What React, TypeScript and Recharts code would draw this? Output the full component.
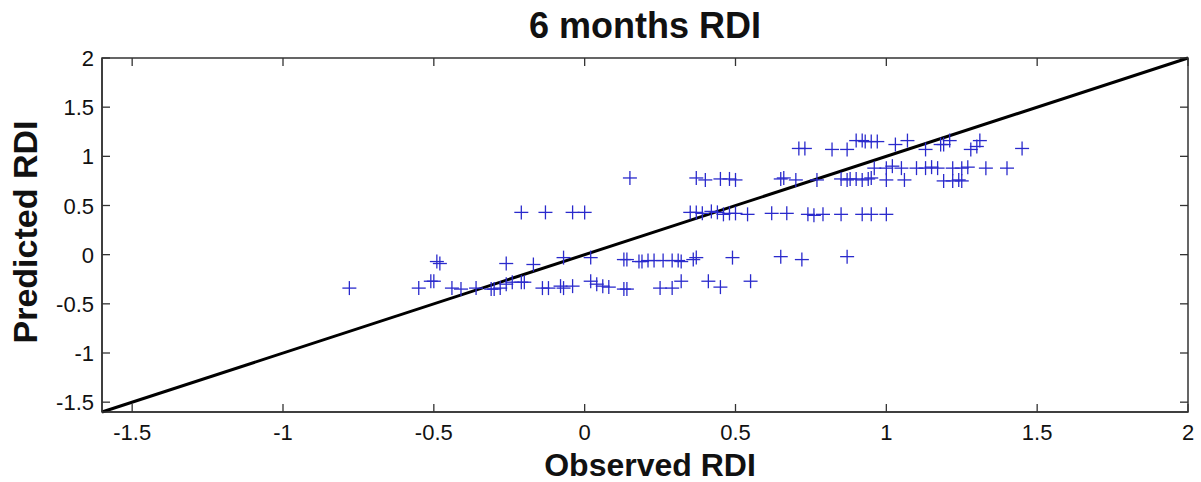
import React from 'react';
import { ScatterChart, Scatter, XAxis, YAxis, ReferenceLine, ReferenceArea } from 'recharts';

const OBSERVED = [
  -0.78, -0.55, -0.44, -0.41, -0.36, -0.31, -0.3, -0.28, -0.14, -0.12, -0.07, 0.13, 0.14, 0.25, 0.29, 0.45,
  -0.51, -0.5, -0.26, -0.24, -0.21, -0.2, -0.08, -0.04, 0.02, 0.04, 0.06, 0.08, 0.32, 0.41, 0.55,
  -0.49, -0.48, -0.26, -0.17, -0.07, 0.02, 0.13, 0.14, 0.18, 0.19, 0.21, 0.23, 0.26, 0.29, 0.31, 0.32, 0.36, 0.37, 0.49, 0.65, 0.72, 0.87,
  -0.21, -0.13, -0.04, 0.0, 0.35, 0.37, 0.39, 0.42, 0.44, 0.46, 0.48, 0.5, 0.54, 0.62, 0.67, 0.74, 0.76, 0.79, 0.85, 0.92, 0.95, 1.0,
  0.15, 0.37, 0.4, 0.45, 0.48, 0.5, 0.65, 0.66, 0.7, 0.77, 0.85, 0.87, 0.88, 0.9, 0.92, 0.94, 0.95, 1.0, 1.06, 1.19, 1.22, 1.24, 1.25,
  0.96, 1.0, 1.02, 1.05, 1.1, 1.13, 1.15, 1.17, 1.22, 1.25, 1.27, 1.33, 1.4,
  0.71, 0.73, 0.82, 0.87, 0.9, 0.92, 0.93, 0.95, 0.97, 1.03, 1.07, 1.13, 1.18, 1.19, 1.21, 1.28, 1.3, 1.31, 1.45,
];
const PREDICTED = [
  -0.34, -0.34, -0.34, -0.35, -0.34, -0.35, -0.35, -0.34, -0.34, -0.34, -0.34, -0.35, -0.35, -0.34, -0.34, -0.33,
  -0.27, -0.27, -0.3, -0.28, -0.28, -0.28, -0.32, -0.32, -0.27, -0.3, -0.32, -0.33, -0.27, -0.27, -0.27,
  -0.07, -0.09, -0.09, -0.1, -0.03, -0.03, -0.05, -0.05, -0.07, -0.07, -0.06, -0.06, -0.06, -0.06, -0.06, -0.07, -0.05, -0.03, -0.03, -0.02, -0.05, -0.02,
  0.43, 0.43, 0.43, 0.43, 0.43, 0.43, 0.42, 0.44, 0.43, 0.41, 0.42, 0.42, 0.41, 0.42, 0.42, 0.41, 0.4, 0.41, 0.41, 0.41, 0.41, 0.41,
  0.78, 0.78, 0.76, 0.77, 0.77, 0.76, 0.77, 0.78, 0.76, 0.76, 0.77, 0.76, 0.77, 0.77, 0.76, 0.77, 0.78, 0.76, 0.76, 0.75, 0.75, 0.76, 0.75,
  0.88, 0.88, 0.9, 0.88, 0.88, 0.88, 0.89, 0.88, 0.88, 0.88, 0.89, 0.88, 0.88,
  1.08, 1.08, 1.07, 1.07, 1.16, 1.16, 1.15, 1.15, 1.15, 1.12, 1.16, 1.07, 1.12, 1.12, 1.16, 1.07, 1.1, 1.16, 1.08,
];

const X_TICKS = [-1.5, -1, -0.5, 0, 0.5, 1, 1.5, 2];
const Y_TICKS = [-1.5, -1, -0.5, 0, 0.5, 1, 1.5, 2];
const DOMAIN: [number, number] = [-1.6, 2];

const W = 1201;
const H = 482;
const M_TOP = 58;
const M_RIGHT = 13;
const Y_W = 102;
const X_H = 70;
const FONT = 'Arial, "Liberation Sans", sans-serif';
const BLUE = '#2a2acc';

const data = OBSERVED.map((x, i) => ({ x, y: PREDICTED[i] }));

const Plus = ({ cx, cy }: any) => (
  <g stroke={BLUE} strokeWidth={1.3}>
    <line x1={cx - 7} x2={cx + 7} y1={cy} y2={cy} />
    <line x1={cx} x2={cx} y1={cy - 7} y2={cy + 7} />
  </g>
);

const XTick = ({ x, y, payload }: any) => (
  <g>
    <line x1={x} x2={x} y1={y} y2={y - 8} stroke="#333" strokeWidth={1.3} />
    <line x1={x} x2={x} y1={M_TOP} y2={M_TOP + 8} stroke="#333" strokeWidth={1.3} />
    <text x={x} y={y + 28} textAnchor="middle" fontSize={22} fontFamily={FONT} fill="#111">
      {payload.value}
    </text>
  </g>
);

const YTick = ({ x, y, payload }: any) => (
  <g>
    <line x1={x} x2={x + 8} y1={y} y2={y} stroke="#333" strokeWidth={1.3} />
    <line x1={W - M_RIGHT} x2={W - M_RIGHT - 8} y1={y} y2={y} stroke="#333" strokeWidth={1.3} />
    <text x={x - 8} y={y + 8} textAnchor="end" fontSize={22} fontFamily={FONT} fill="#111">
      {payload.value}
    </text>
  </g>
);

export default function App() {
  return (
    <div style={{ position: 'absolute', left: 0, top: 0, width: W, height: H, background: '#fff' }}>
      <ScatterChart width={W} height={H} margin={{ top: M_TOP, right: M_RIGHT, left: 0, bottom: 0 }}>
        <XAxis
          type="number"
          dataKey="x"
          domain={DOMAIN}
          ticks={X_TICKS}
          interval={0}
          allowDataOverflow
          height={X_H}
          tickSize={0}
          tickMargin={0}
          tick={<XTick />}
          axisLine={{ stroke: '#333', strokeWidth: 1.5 }}
        />
        <YAxis
          type="number"
          dataKey="y"
          domain={DOMAIN}
          ticks={Y_TICKS}
          interval={0}
          allowDataOverflow
          width={Y_W}
          tickSize={0}
          tickMargin={0}
          tick={<YTick />}
          axisLine={{ stroke: '#333', strokeWidth: 1.5 }}
        />
        <ReferenceArea x1={-1.6} x2={2} y1={-1.6} y2={2} fill="none" stroke="#333" strokeWidth={1.5} ifOverflow="visible" />
        <Scatter data={data} shape={<Plus />} isAnimationActive={false} />
        <ReferenceLine
          segment={[{ x: -1.6, y: -1.6 }, { x: 2, y: 2 }]}
          stroke="#000"
          strokeWidth={3}
          ifOverflow="visible"
        />
        <text x={645} y={38} textAnchor="middle" fontSize={36} fontWeight="bold" fontFamily={FONT} fill="#111">
          6 months RDI
        </text>
        <text x={650} y={476} textAnchor="middle" fontSize={32} fontWeight="bold" fontFamily={FONT} fill="#111">
          Observed RDI
        </text>
        <text
          x={0}
          y={0}
          transform="translate(37,232) rotate(-90)"
          textAnchor="middle"
          fontSize={34}
          fontWeight="bold"
          fontFamily={FONT}
          fill="#111"
        >
          Predicted RDI
        </text>
      </ScatterChart>
    </div>
  );
}
